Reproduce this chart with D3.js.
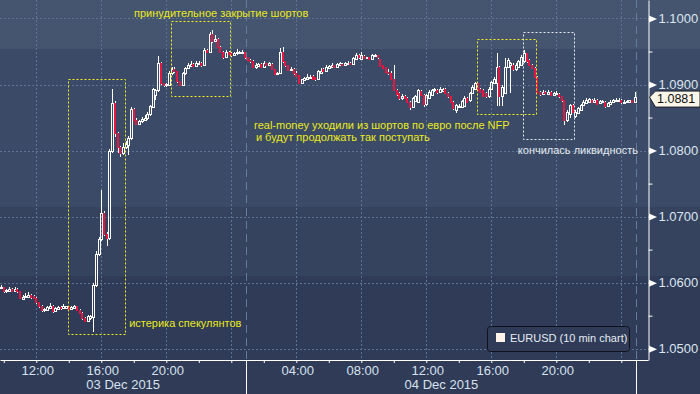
<!DOCTYPE html>
<html>
<head>
<meta charset="utf-8">
<script src="https://cdn.jsdelivr.net/npm/d3@7"></script>
<style>
html, body { margin: 0; padding: 0; background: #2f3b57; }
svg { display: block; font-family: "Liberation Sans", Arial, sans-serif; }
</style>
</head>
<body>
<div id="chart"></div>
<script>
// EURUSD, 10 min candles, prices in pips above 1.0000
const firstBar = new Date(2015, 11, 3, 9, 50);

const opens = [
  592,593,587,588,591,588,591,587,576,578, 579,581,580,577,570,564,558,559,562,565,
  557,560,563,561,562,564,560,562,564,559, 554,546,542,547,548,596,643,666,705,674,
  668,800,872,826,805,797,805,809,819,863, 847,841,845,847,849,855,866,884,891,932,
  902,899,900,917,924,920,905,900,917,925, 928,931,928,931,933,930,953,950,977,966,
  969,957,950,942,950,948,944,947,948,948, 949,941,937,936,927,928,931,927,932,929,
  931,923,916,917,949,935,929,922,924,918, 914,903,907,909,910,913,911,908,917,924,
  921,925,927,929,927,930,931,929,932,933, 931,939,945,939,943,940,941,939,943,944,
  938,929,926,919,918,909,892,887,879,883, 880,874,866,875,874,890,884,870,880,884,
  891,892,888,890,894,887,882,874,862,866, 866,868,880,876,887,894,902,894,892,887,
  882,893,903,902,926,882,887,927,929,930, 923,927,930,935,947,937,930,925,912,889,
  885,889,886,889,884,885,886,882,876,846, 856,869,853,857,862,869,872,874,877,874,
  877,872,874,874,867,871,873,875,876,877, 873,874,873,876,874
];
const highs = [
  597,594,591,593,592,594,592,588,581,584, 586,583,582,578,571,566,562,565,569,566,
  563,565,564,568,565,565,565,566,565,560, 555,548,551,551,600,648,669,741,708,677,
  803,893,875,828,807,812,814,822,866,864, 849,847,851,854,858,869,895,894,943,934,
  903,903,920,927,926,921,906,919,927,933, 936,932,935,936,934,955,954,980,982,975,
  970,958,951,952,951,950,950,954,951,953, 950,942,939,937,933,932,932,935,933,934,
  932,924,919,956,957,936,930,926,925,920, 915,909,912,916,914,914,912,922,925,925,
  929,930,932,930,933,934,932,934,935,934, 942,948,946,950,944,942,942,946,946,945,
  939,930,927,923,920,930,893,888,885,884, 881,875,881,884,894,891,885,886,892,894,
  895,893,896,895,895,888,883,875,871,870, 877,882,881,889,899,904,903,895,893,888,
  896,906,911,947,928,899,940,940,934,932, 932,937,944,953,948,938,931,926,913,890,
  891,890,891,890,889,890,887,883,877,861, 871,870,861,866,871,876,879,880,878,879,
  878,877,877,875,873,876,878,879,879,878, 876,876,877,877,888
];
const lows = [
  590,585,585,587,586,587,585,575,575,577, 578,576,575,568,562,556,556,557,560,554,
  555,558,559,560,560,558,558,561,557,552, 544,540,540,544,526,593,640,663,670,656,
  664,796,820,797,791,794,802,793,816,845, 839,839,842,845,846,852,864,877,889,900,
  897,897,899,915,918,903,898,899,915,923, 926,926,926,929,927,928,948,948,963,964,
  955,948,939,940,944,942,943,945,946,946, 939,935,933,925,924,926,926,926,928,928,
  922,915,914,916,933,927,920,920,915,911, 901,901,905,907,908,907,906,907,916,919,
  920,923,926,925,926,929,928,928,930,929, 930,938,939,938,938,938,937,938,941,939,
  926,923,917,915,907,890,883,877,877,878, 872,862,864,873,872,882,866,868,878,883,
  889,886,887,889,885,880,872,862,857,864, 864,866,872,874,885,892,890,887,881,880,
  880,891,901,867,867,867,885,925,887,921, 921,925,928,933,933,928,923,910,887,883,
  884,885,885,882,883,884,880,874,839,844, 849,857,850,855,860,867,870,872,872,873,
  869,870,872,865,866,870,872,874,875,871, 872,873,872,873,873
];
const closes = [
  594,587,589,591,588,591,587,577,579,580, 582,579,577,570,564,558,560,563,565,557,
  561,563,561,564,564,560,563,564,559,554, 546,542,549,549,596,643,666,705,674,668,
  800,872,826,805,797,806,810,819,863,847, 841,845,848,850,855,867,893,892,932,902,
  899,901,918,924,920,905,900,917,925,929, 931,928,932,933,929,953,950,977,966,969,
  957,950,942,949,946,944,948,950,949,950, 941,937,936,927,929,931,927,933,929,933,
  923,916,918,950,935,929,922,924,917,913, 903,908,910,912,912,909,908,920,921,921,
  926,928,929,927,931,932,929,932,933,931, 940,945,941,945,940,941,939,944,944,941,
  928,925,919,917,909,892,885,879,883,880, 874,866,879,882,892,884,870,884,889,892,
  893,888,894,894,887,882,874,864,869,868, 875,880,874,887,897,902,892,889,883,882,
  894,904,909,926,882,897,927,937,932,923, 930,935,942,947,935,930,925,912,889,885,
  889,887,889,884,887,887,882,876,846,859, 869,859,859,864,869,874,877,878,874,877,
  871,875,875,867,872,874,876,877,877,873, 874,875,876,874,881
];

const yTicks = [1.05, 1.055, 1.06, 1.065, 1.07, 1.075, 1.08, 1.085, 1.09, 1.095, 1.10];
const lastPrice = 1.0881;
const dayLabels = ["03 Dec 2015", "04 Dec 2015"];
const dayBreaks = [new Date(2015, 11, 4, 0, 56), new Date(2015, 11, 5, 0, 56)];
const legendLabel = "EURUSD (10 min chart)";

const boxes = [
  { t0: new Date(2015, 11, 3, 13, 57), t1: new Date(2015, 11, 3, 17, 28), p0: 1.09084, p1: 1.05223, color: "#f2f21a" },
  { t0: new Date(2015, 11, 3, 20, 17), t1: new Date(2015, 11, 3, 23, 55), p0: 1.09962, p1: 1.08826, color: "#f2f21a" },
  { t0: new Date(2015, 11, 4, 15, 7), t1: new Date(2015, 11, 4, 18, 45), p0: 1.09690, p1: 1.08554, color: "#f2f21a" },
  { t0: new Date(2015, 11, 4, 17, 57), t1: new Date(2015, 11, 4, 21, 5), p0: 1.09796, p1: 1.08175, color: "#e8edf3" }
];
const notes = [
  { t: new Date(2015, 11, 3, 18, 1), p: 1.1003, text: "принудительное закрытие шортов", color: "#eaea22" },
  { t: new Date(2015, 11, 3, 17, 43), p: 1.05329, text: "истерика спекулянтов", color: "#eaea22" },
  { t: new Date(2015, 11, 4, 1, 24), p: 1.08327, text: "real-money уходили из шортов по евро после NFP", color: "#eaea22" },
  { t: new Date(2015, 11, 4, 1, 31), p: 1.08145, text: "и будут продолжать так поступать", color: "#eaea22" },
  { t: new Date(2015, 11, 4, 17, 38), p: 1.07948, text: "кончилась ликвидность", color: "#e4eaf2" }
];

const width = 700, height = 394;
const plotW = 648, plotH = 360;

const svg = d3.select("#chart")
  .append("svg")
  .attr("width", width)
  .attr("height", height);

// background bands
const bands = [[0, 49, "#45556f"], [49, 207, "#3b4a66"], [207, 276, "#35435f"], [276, 394, "#2f3b57"]];
svg.selectAll("rect.band")
  .data(bands)
  .join("rect")
  .classed("band", true)
  .attr("x", 0).attr("width", width)
  .attr("y", d => d[0]).attr("height", d => d[1] - d[0])
  .attr("fill", d => d[2]);

const x = d3.scaleTime()
  .domain([new Date(2015, 11, 3, 9, 46, 2), new Date(2015, 11, 5, 1, 38, 35)])
  .range([0, plotW]);
const y = d3.scaleLinear()
  .domain([1.048289, 1.102801])
  .range([plotH, 0]);

const bars = closes.map((c, i) => ({
  t: d3.timeMinute.offset(firstBar, i * 10),
  o: 1 + opens[i] / 1e4,
  h: 1 + highs[i] / 1e4,
  l: 1 + lows[i] / 1e4,
  c: 1 + c / 1e4
}));

// grid
const isMajor = v => Math.abs(Math.round(v * 100) - v * 100) < 1e-6;
svg.append("g")
  .selectAll("line")
  .data(yTicks.filter(isMajor))
  .join("line")
  .attr("x1", 0).attr("x2", plotW)
  .attr("y1", d => Math.round(y(d)) + 0.5).attr("y2", d => Math.round(y(d)) + 0.5)
  .attr("stroke", "#5c7491")
  .attr("stroke-dasharray", "2,2");

svg.append("g")
  .selectAll("line")
  .data(x.ticks(d3.timeHour.every(4)))
  .join("line")
  .attr("x1", d => Math.round(x(d)) + 0.5).attr("x2", d => Math.round(x(d)) + 0.5)
  .attr("y1", 0).attr("y2", plotH)
  .attr("stroke", "#5c7491")
  .attr("stroke-dasharray", "2,2");

svg.append("g")
  .selectAll("line")
  .data(dayBreaks)
  .join("line")
  .attr("x1", d => Math.round(x(d)) + 0.5).attr("x2", d => Math.round(x(d)) + 0.5)
  .attr("y1", 0).attr("y2", plotH)
  .attr("stroke", "#647d9b")
  .attr("stroke-dasharray", "8,5");

// candles
const cg = svg.append("g").attr("shape-rendering", "crispEdges");
const geo = bars.map(d => {
  const cx = Math.round(x(d.t));
  const top = Math.round(y(Math.max(d.o, d.c)));
  const bot = Math.round(y(Math.min(d.o, d.c)));
  return { cx, top, bot, yh: Math.round(y(d.h)), yl: Math.round(y(d.l)), up: d.c >= d.o };
});

cg.selectAll("line.wick-hi")
  .data(geo)
  .join("line")
  .classed("wick-hi", true)
  .attr("x1", d => d.cx + 0.5).attr("x2", d => d.cx + 0.5)
  .attr("y1", d => d.yh).attr("y2", d => d.top)
  .attr("stroke", "#ffffff");
cg.selectAll("line.wick-lo")
  .data(geo)
  .join("line")
  .classed("wick-lo", true)
  .attr("x1", d => d.cx + 0.5).attr("x2", d => d.cx + 0.5)
  .attr("y1", d => d.bot + 1).attr("y2", d => d.yl)
  .attr("stroke", "#ffffff");

cg.selectAll("rect.up")
  .data(geo.filter(d => d.up))
  .join("rect")
  .classed("up", true)
  .attr("x", d => d.cx - 0.5)
  .attr("y", d => d.top + 0.5)
  .attr("width", 2)
  .attr("height", d => Math.max(d.bot - d.top, 1))
  .attr("fill", "none")
  .attr("stroke", "#ffffff");

cg.selectAll("rect.down")
  .data(geo.filter(d => !d.up))
  .join("rect")
  .classed("down", true)
  .attr("x", d => d.cx - 1)
  .attr("y", d => d.top)
  .attr("width", 2)
  .attr("height", d => Math.max(d.bot - d.top, 1) + 1)
  .attr("fill", "#e3173f");

// annotations
svg.append("g")
  .selectAll("rect")
  .data(boxes)
  .join("rect")
  .attr("x", d => Math.round(x(d.t0)) + 0.5)
  .attr("y", d => Math.round(y(d.p0)) + 0.5)
  .attr("width", d => Math.round(x(d.t1) - x(d.t0)))
  .attr("height", d => Math.round(y(d.p1) - y(d.p0)))
  .attr("fill", "none")
  .attr("stroke", d => d.color)
  .attr("stroke-dasharray", "2,2");

svg.append("g")
  .selectAll("text")
  .data(notes)
  .join("text")
  .attr("x", d => x(d.t))
  .attr("y", d => y(d.p))
  .attr("fill", d => d.color)
  .style("font-size", "11px")
  .text(d => d.text);

// x axis
const hourFmt = d3.timeFormat("%H:%M");
const xAxis = d3.axisBottom(x)
  .ticks(d3.timeHour.every(2))
  .tickSize(3)
  .tickSizeOuter(0)
  .tickPadding(3)
  .tickFormat(d => (d.getHours() % 4 === 0 && d.getHours() !== 0) ? hourFmt(d) : "");
const gx = svg.append("g")
  .attr("transform", "translate(0," + plotH + ")")
  .call(xAxis);
gx.select(".domain").attr("stroke", "#ffffff");
gx.selectAll(".tick line").attr("stroke", "#ffffff");
gx.selectAll(".tick text")
  .attr("fill", "#d8e2ee")
  .attr("dx", 1)
  .style("font-size", "13px")
  .style("font-family", "Liberation Sans, Arial, sans-serif");

svg.append("g")
  .selectAll("line")
  .data(dayBreaks)
  .join("line")
  .attr("x1", d => Math.round(x(d)) + 0.5).attr("x2", d => Math.round(x(d)) + 0.5)
  .attr("y1", plotH).attr("y2", height)
  .attr("stroke", "#ffffff");

const dayEdges = [0, x(dayBreaks[0]), x(dayBreaks[1])];
svg.append("g")
  .selectAll("text")
  .data(dayLabels)
  .join("text")
  .attr("x", (d, i) => (dayEdges[i] + dayEdges[i + 1]) / 2)
  .attr("y", 389)
  .attr("text-anchor", "middle")
  .attr("fill", "#d8e2ee")
  .style("font-size", "13px")
  .text(d => d);

// y axis
const yAxis = d3.axisRight(y)
  .tickValues(yTicks)
  .tickSize(4)
  .tickSizeOuter(0)
  .tickPadding(6)
  .tickFormat(d => isMajor(d) ? d3.format(".4f")(d) : "");
const gy = svg.append("g")
  .attr("transform", "translate(" + (plotW + 0.5) + ",0)")
  .call(yAxis);
gy.select(".domain").attr("stroke", "#ffffff");
gy.selectAll(".tick line").attr("stroke", "#ffffff");
gy.selectAll(".tick text")
  .attr("fill", "#dde6f0")
  .style("font-size", "13px")
  .style("font-family", "Liberation Sans, Arial, sans-serif");
gy.selectAll(".tick")
  .filter(d => isMajor(d))
  .append("path")
  .attr("d", "M0.5,-3.5L8.5,0L0.5,3.5Z")
  .attr("fill", "#ffffff");

// last price flag
const yl = y(lastPrice);
svg.append("path")
  .attr("d", "M649.5," + yl + "L655.5," + (yl - 6) + "L700," + (yl - 6) + "L700," + (yl + 10) + "L655.5," + (yl + 10) + "Z")
  .attr("fill", "#fcf6ea")
  .attr("stroke", "#1a1e28");
svg.append("text")
  .attr("x", 657)
  .attr("y", yl + 6)
  .attr("fill", "#111111")
  .style("font-size", "12.5px")
  .text(d3.format(".4f")(lastPrice));

// legend
const lg = svg.append("g").attr("transform", "translate(487,326)");
lg.append("rect")
  .attr("x", 0.5).attr("y", 0.5)
  .attr("width", 142).attr("height", 25)
  .attr("rx", 3)
  .attr("fill", "#2f3b57")
  .attr("stroke", "#0e121b");
lg.append("rect")
  .attr("x", 9).attr("y", 7)
  .attr("width", 9).attr("height", 9)
  .attr("fill", "#fdf3ea");
lg.append("text")
  .attr("x", 23).attr("y", 16)
  .attr("fill", "#e6edf5")
  .style("font-size", "11px")
  .text(legendLabel);
</script>
</body>
</html>
